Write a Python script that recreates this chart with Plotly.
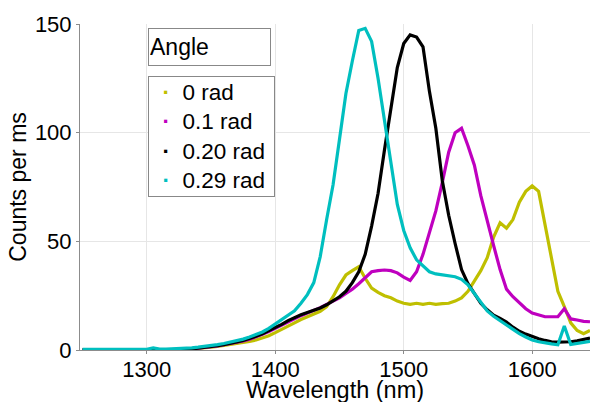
import plotly.graph_objects as go

wavelength = list(range(1250, 1650, 5))

y_0rad = [0.1]*15 + [
    0.2, 0.3, 0.5, 0.7, 1.0, 1.3, 1.7, 2.1, 2.6, 3.0, 3.5, 4.0,
    4.6, 5.5, 6.6, 8.0, 9.4, 11.0, 12.5, 14.0, 15.3, 16.5, 17.8, 20.0,
    24.5, 30.0, 34.5, 36.5, 38.3, 33.0, 28.5, 26.5, 25.0, 24.0, 22.5, 21.5,
    21.0, 21.5, 21.0, 21.5, 21.0, 21.3, 21.5, 22.5, 24.0, 27.0, 31.5, 36.5,
    42.5, 52.0, 58.5, 56.0, 60.0, 68.0, 73.0, 75.5, 73.0, 58.0, 42.0, 27.0,
    20.0, 12.5, 9.0, 7.5, 9.0]

y_01rad = [0.1]*15 + [
    0.2, 0.3, 0.5, 0.8, 1.1, 1.5, 1.9, 2.4, 2.9, 3.5, 4.2, 5.0,
    6.0, 7.2, 8.5, 10.0, 11.5, 13.0, 14.5, 15.8, 17.0, 18.2, 19.5, 21.0,
    22.5, 24.0, 26.0, 28.0, 30.5, 33.5, 36.0, 36.5, 36.8, 36.5, 35.5, 33.5,
    32.0, 36.0, 44.0, 54.0, 64.0, 77.0, 91.0, 100.0, 102.0, 94.0, 85.0, 71.0,
    59.0, 48.0, 37.0, 28.0, 24.5, 21.5, 19.0, 17.0, 16.0, 15.3, 15.3, 15.3,
    19.0, 14.3, 13.8, 13.2, 13.0]

y_020rad = [0.1]*15 + [
    0.2, 0.3, 0.5, 0.8, 1.1, 1.5, 2.0, 2.5, 3.0, 3.7, 4.4, 5.2,
    6.3, 7.5, 8.8, 10.2, 11.8, 13.5, 15.0, 16.2, 17.3, 18.3, 19.3, 20.8,
    22.5, 24.5, 27.0, 31.0, 36.0, 44.0, 57.0, 72.0, 92.0, 110.0, 130.0, 141.0,
    145.0, 144.0, 139.5, 119.0, 102.0, 78.0, 62.0, 49.0, 37.0, 30.5, 26.0, 21.5,
    18.5, 16.0, 14.5, 12.8, 10.5, 8.6, 7.3, 6.2, 5.2, 4.4, 3.8, 3.6,
    3.6, 3.8, 4.2, 5.0, 5.5]

y_029rad = [0.3]*11 + [1.0, 0.4, 0.4, 0.5] + [
    0.6, 0.8, 1.0, 1.3, 1.6, 2.0, 2.5, 3.0, 3.6, 4.3, 5.0, 6.0,
    7.0, 8.3, 10.0, 12.0, 14.0, 16.0, 18.0, 21.5, 25.5, 31.0, 43.0, 60.0,
    76.0, 97.0, 118.0, 133.0, 147.0, 148.0, 142.0, 125.0, 106.0, 88.0, 67.0, 55.0,
    47.0, 41.5, 38.5, 36.0, 35.0, 34.5, 34.0, 33.7, 32.5, 30.0, 26.0, 22.0,
    18.0, 15.5, 13.5, 11.5, 9.5, 7.5, 6.0, 4.6, 3.8, 3.2, 2.8, 2.4,
    11.0, 2.5, 3.0, 3.5, 4.0]

names = ["0 rad", "0.1 rad", "0.20 rad", "0.29 rad"]
colors = ["#BFBF00", "#BF00BF", "#000000", "#00BFBF"]
values = [y_0rad, y_01rad, y_020rad, y_029rad]

FONT = "Arial, Liberation Sans, sans-serif"
fig = go.Figure()
for name, ys, color in zip(names, values, colors):
    fig.add_trace(go.Scatter(x=wavelength, y=ys, mode="lines", name=name,
                             line=dict(color=color, width=3.2),
                             showlegend=False, hoverinfo="skip"))

NB = "\u00a0"
legend_lines = [
    f"{NB}{NB}<span style='color:{c}'><b>·</b></span>{NB}{NB}{n}"
    for n, c in zip(names, colors)
]
legend_text = "<br>".join(legend_lines)

fig.update_layout(
    width=590, height=402,
    margin=dict(l=80, r=0, t=24, b=52, autoexpand=False),
    paper_bgcolor="white", plot_bgcolor="white",
    font=dict(family=FONT, size=22, color="black"),
    showlegend=False,
    annotations=[
        dict(text="Angle", xref="paper", yref="paper",
             x=0.133, y=0.988, xanchor="left", yanchor="top",
             showarrow=False, align="left", width=119, height=34,
             bordercolor="#888888", borderwidth=1, borderpad=1,
             bgcolor="white", font=dict(size=23)),
        dict(text=legend_text, xref="paper", yref="paper",
             x=0.133, y=0.8405, xanchor="left", yanchor="top",
             showarrow=False, align="left", width=123, height=117,
             bordercolor="#888888", borderwidth=1, borderpad=1,
             bgcolor="white", font=dict(size=22.5)),
        dict(text="Wavelength (nm)", xref="paper", yref="paper",
             x=0.5, y=0, xanchor="center", yanchor="top", yshift=-26,
             showarrow=False, font=dict(size=23.5), borderpad=0),
    ],
)
fig.update_xaxes(range=[1248, 1645], tickvals=[1300, 1400, 1500, 1600],
                 showgrid=True, gridcolor="#e6e6e6", zeroline=False,
                 showline=True, linecolor="#8c8c8c", ticks="outside",
                 ticklen=3, tickcolor="#8c8c8c", tickfont=dict(size=22),
                 ticklabelstandoff=-3, automargin=False)
fig.update_yaxes(range=[0, 150], tickvals=[0, 50, 100, 150],
                 showgrid=True, gridcolor="#e6e6e6", zeroline=False,
                 showline=True, linecolor="#8c8c8c", ticks="outside",
                 ticklen=3, tickcolor="#8c8c8c", tickfont=dict(size=22),
                 automargin=False,
                 title=dict(text="Counts per ms", standoff=1,
                            font=dict(size=23)))

fig.write_html("out.html")
